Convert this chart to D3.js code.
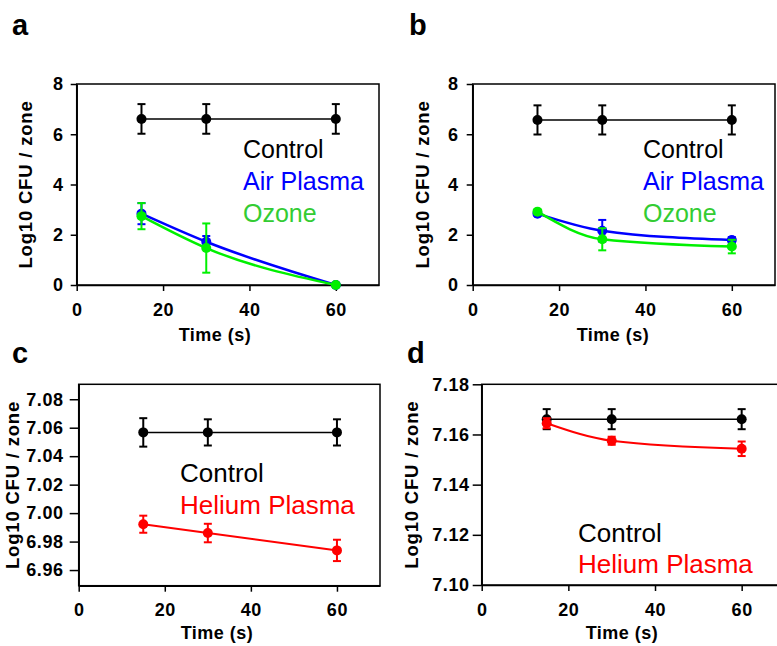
<!DOCTYPE html>
<html>
<head>
<meta charset="utf-8">
<script src="https://cdn.jsdelivr.net/npm/d3@7"></script>
<style>
  body { margin: 0; background: #fff; }
  svg { display: block; font-family: "Liberation Sans", Arial, sans-serif; }
</style>
</head>
<body>
<svg id="chart" width="777" height="646"></svg>
<script>
// exposure times (s)
var times = [15, 30, 60];
var xTicks = [0, 20, 40, 60];

// panel a
var aControl = [6.61, 6.61, 6.61];
var aControlErr = [0.59, 0.59, 0.59];
var aAir = [2.84, 1.72, 0.0];
var aAirErr = [0.42, 0.23, 0.0];
var aOzone = [2.74, 1.47, 0.0];
var aOzoneErr = [0.52, 0.98, 0.0];

// panel b
var bControl = [6.57, 6.57, 6.57];
var bControlErr = [0.58, 0.58, 0.58];
var bAir = [2.84, 2.16, 1.79];
var bAirErr = [0.08, 0.43, 0.12];
var bOzone = [2.92, 1.82, 1.53];
var bOzoneErr = [0.08, 0.44, 0.27];

// panel c
var cControl = [7.0567, 7.0567, 7.0567];
var cControlErr = [0.0100, 0.0092, 0.0092];
var cHelium = [6.9922, 6.9860, 6.9738];
var cHeliumErr = [0.0060, 0.0065, 0.0075];

// panel d
var dControl = [7.1661, 7.1661, 7.1661];
var dControlErr = [0.0040, 0.0040, 0.0040];
var dHelium = [7.1645, 7.1575, 7.1543];
var dHeliumErr = [0.0020, 0.0016, 0.0029];

var ticksAB = [0, 2, 4, 6, 8];
var ticksC = [6.96, 6.98, 7.00, 7.02, 7.04, 7.06, 7.08];
var ticksD = [7.10, 7.12, 7.14, 7.16, 7.18];

var svg = d3.select("#chart");

function rows(ys, errs) {
	return times.map(function(t, i) { return { x: t, y: ys[i], e: errs[i] }; });
}

function drawPanel(p) {
	var x = d3.scaleLinear().domain([0, 70]).range([p.left, p.right]);
	var y = d3.scaleLinear().domain(p.yDomain).range([p.bottom, p.top]);
	var g = svg.append("g");

	// frame
	g.append("rect")
		.attr("x", p.left).attr("y", p.top)
		.attr("width", p.right - p.left).attr("height", p.bottom - p.top)
		.attr("fill", "none").attr("stroke", "#000").attr("stroke-width", 1.5);

	var xAxis = g.append("g")
		.attr("transform", "translate(0," + p.bottom + ")")
		.call(d3.axisBottom(x).tickValues(xTicks).tickSize(6).tickPadding(12).tickSizeOuter(0));
	var yAxis = g.append("g")
		.attr("transform", "translate(" + p.left + ",0)")
		.call(d3.axisLeft(y).tickValues(p.yTicks).tickSize(p.tickLen).tickPadding(p.tickPad)
			.tickSizeOuter(0).tickFormat(p.fmt));
	[xAxis, yAxis].forEach(function(a) {
		a.select(".domain").attr("stroke-width", 1.5);
		a.selectAll(".tick line").attr("stroke-width", 1.5);
		a.selectAll("text").attr("font-size", 18).attr("font-weight", "bold")
			.attr("letter-spacing", 0.6)
			.attr("font-family", "Liberation Sans, Arial, sans-serif").attr("fill", "#000");
	});

	// titles
	g.append("text")
		.attr("x", p.timeX).attr("y", p.timeY)
		.attr("text-anchor", "middle").attr("font-size", 18).attr("font-weight", "bold")
		.attr("letter-spacing", 0.5)
		.text("Time (s)");
	g.append("text")
		.attr("transform", "translate(" + p.yTitleX + "," + ((p.top + p.bottom) / 2) + ") rotate(-90)")
		.attr("text-anchor", "middle").attr("font-size", 18.5).attr("font-weight", "bold")
		.attr("letter-spacing", 0.8)
		.text("Log10 CFU / zone");
	svg.append("text")
		.attr("x", p.letterX).attr("y", p.letterY)
		.attr("font-size", 29).attr("font-weight", "bold")
		.text(p.letter);

	var line = d3.line()
		.x(function(d) { return x(d.x); })
		.y(function(d) { return y(d.y); });

	p.series.forEach(function(s) {
		var data = rows(s.values, s.errors);
		line.curve(s.curve || d3.curveLinear);
		g.append("path").datum(data)
			.attr("d", line)
			.attr("fill", "none").attr("stroke", s.color).attr("stroke-width", s.width);

		var eb = g.append("g").selectAll("g")
			.data(data.filter(function(d) { return d.e > 0; }))
			.enter().append("g")
			.attr("stroke", s.color).attr("stroke-width", 2);
		eb.append("line")
			.attr("x1", function(d) { return x(d.x); }).attr("x2", function(d) { return x(d.x); })
			.attr("y1", function(d) { return y(d.y - d.e); }).attr("y2", function(d) { return y(d.y + d.e); });
		[-1, 1].forEach(function(sg) {
			eb.append("line")
				.attr("x1", function(d) { return x(d.x) - 4; }).attr("x2", function(d) { return x(d.x) + 4; })
				.attr("y1", function(d) { return y(d.y + sg * d.e); }).attr("y2", function(d) { return y(d.y + sg * d.e); });
		});

		g.append("g").selectAll("circle")
			.data(data)
			.enter().append("circle")
			.attr("cx", function(d) { return x(d.x); })
			.attr("cy", function(d) { return y(d.y); })
			.attr("r", 5)
			.attr("fill", s.color);
	});

	// legend, text only
	p.legend.forEach(function(l, i) {
		g.append("text")
			.attr("x", p.legendX).attr("y", p.legendY + i * p.legendStep)
			.attr("font-size", p.legendSize).attr("fill", l.color)
			.text(l.label);
	});
}

var GREEN = "#00f000", BLUE = "#0000ff", RED = "#ff0000";

drawPanel({
	letter: "a", letterX: 12, letterY: 35,
	left: 76.7, right: 379, top: 84, bottom: 285,
	yDomain: [0, 8], yTicks: ticksAB, fmt: d3.format("d"), tickLen: 6, tickPad: 7,
	yTitleX: 32, timeX: 215, timeY: 341,
	legendX: 243, legendY: 158, legendStep: 32, legendSize: 25,
	legend: [{ label: "Control", color: "#000" }, { label: "Air Plasma", color: BLUE }, { label: "Ozone", color: "#33cc33" }],
	series: [
		{ values: aControl, errors: aControlErr, color: "#000", width: 1.5 },
		{ values: aAir, errors: aAirErr, color: BLUE, width: 2.5, curve: d3.curveMonotoneX },
		{ values: aOzone, errors: aOzoneErr, color: GREEN, width: 2.5, curve: d3.curveMonotoneX }
	]
});

drawPanel({
	letter: "b", letterX: 409, letterY: 35,
	left: 472.7, right: 775, top: 84, bottom: 285,
	yDomain: [0, 8], yTicks: ticksAB, fmt: d3.format("d"), tickLen: 6, tickPad: 8,
	yTitleX: 429, timeX: 613, timeY: 341,
	legendX: 643, legendY: 158, legendStep: 32, legendSize: 25,
	legend: [{ label: "Control", color: "#000" }, { label: "Air Plasma", color: BLUE }, { label: "Ozone", color: "#33cc33" }],
	series: [
		{ values: bControl, errors: bControlErr, color: "#000", width: 1.5 },
		{ values: bAir, errors: bAirErr, color: BLUE, width: 2.5, curve: d3.curveMonotoneX },
		{ values: bOzone, errors: bOzoneErr, color: GREEN, width: 2.5, curve: d3.curveMonotoneX }
	]
});

drawPanel({
	letter: "c", letterX: 12, letterY: 363,
	left: 78.7, right: 380, top: 384.3, bottom: 585.7,
	yDomain: [6.949, 7.0905], yTicks: ticksC, fmt: d3.format(".2f"), tickLen: 9, tickPad: 6,
	yTitleX: 19, timeX: 217, timeY: 639,
	legendX: 180, legendY: 482, legendStep: 32, legendSize: 26,
	legend: [{ label: "Control", color: "#000" }, { label: "Helium Plasma", color: RED }],
	series: [
		{ values: cControl, errors: cControlErr, color: "#000", width: 1.5 },
		{ values: cHelium, errors: cHeliumErr, color: RED, width: 2, curve: d3.curveMonotoneX }
	]
});

drawPanel({
	letter: "d", letterX: 407, letterY: 363,
	left: 481.7, right: 785, top: 384.3, bottom: 585,
	yDomain: [7.10, 7.18], yTicks: ticksD, fmt: d3.format(".2f"), tickLen: 9, tickPad: 3,
	yTitleX: 418, timeX: 622, timeY: 639,
	legendX: 578, legendY: 542, legendStep: 31, legendSize: 26,
	legend: [{ label: "Control", color: "#000" }, { label: "Helium Plasma", color: RED }],
	series: [
		{ values: dControl, errors: dControlErr, color: "#000", width: 1.5 },
		{ values: dHelium, errors: dHeliumErr, color: RED, width: 2, curve: d3.curveMonotoneX }
	]
});
</script>
</body>
</html>
